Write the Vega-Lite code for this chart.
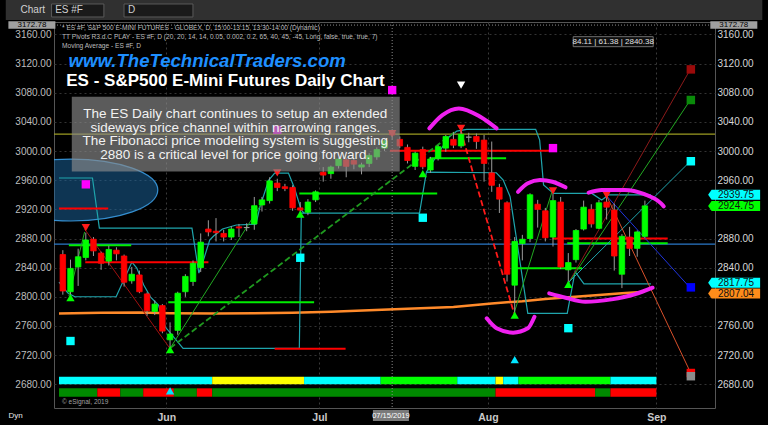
{
"$schema": "https://vega.github.io/schema/vega-lite/v6.json",
"width": 661, "height": 386,
"autosize": {"type": "none"},
"padding": {"left": 54, "top": 22, "right": 53, "bottom": 17},
"background": "#000000",
"config": {"view": {"stroke": "#555555", "fill": "#000000"}, "font": "Liberation Sans"},
"resolve": {"axis": {"x": "independent", "y": "independent"}, "scale": {"color": "independent", "shape": "independent"}},
"datasets": {
"candles": [
{"n":0,"date":"2019-05-13","o":2858,"h":2864,"l":2803,"c":2808},
{"n":1,"date":"2019-05-14","o":2807,"h":2851,"l":2800,"c":2839},
{"n":2,"date":"2019-05-15","o":2841,"h":2866,"l":2815,"c":2855},
{"n":3,"date":"2019-05-16","o":2854,"h":2888,"l":2850,"c":2878},
{"n":4,"date":"2019-05-17","o":2879,"h":2882,"l":2856,"c":2863},
{"n":5,"date":"2019-05-20","o":2860,"h":2862,"l":2837,"c":2846},
{"n":6,"date":"2019-05-21","o":2849,"h":2870,"l":2843,"c":2865},
{"n":7,"date":"2019-05-22","o":2864,"h":2868,"l":2850,"c":2859},
{"n":8,"date":"2019-05-23","o":2856,"h":2858,"l":2814,"c":2820},
{"n":9,"date":"2019-05-24","o":2822,"h":2841,"l":2818,"c":2831},
{"n":10,"date":"2019-05-28","o":2830,"h":2836,"l":2805,"c":2807},
{"n":11,"date":"2019-05-29","o":2804,"h":2806,"l":2774,"c":2781},
{"n":12,"date":"2019-05-30","o":2780,"h":2795,"l":2775,"c":2790},
{"n":13,"date":"2019-05-31","o":2788,"h":2790,"l":2750,"c":2753},
{"n":14,"date":"2019-06-03","o":2741,"h":2765,"l":2729,"c":2749},
{"n":15,"date":"2019-06-04","o":2754,"h":2807,"l":2748,"c":2805},
{"n":16,"date":"2019-06-05","o":2807,"h":2831,"l":2800,"c":2828},
{"n":17,"date":"2019-06-06","o":2821,"h":2850,"l":2815,"c":2846},
{"n":18,"date":"2019-06-07","o":2840,"h":2887,"l":2834,"c":2875},
{"n":19,"date":"2019-06-10","o":2893,"h":2905,"l":2883,"c":2889},
{"n":20,"date":"2019-06-11","o":2890,"h":2908,"l":2876,"c":2888},
{"n":21,"date":"2019-06-12","o":2887,"h":2892,"l":2876,"c":2882},
{"n":22,"date":"2019-06-13","o":2882,"h":2897,"l":2878,"c":2893},
{"n":23,"date":"2019-06-14","o":2896,"h":2900,"l":2882,"c":2894.5},
{"n":24,"date":"2019-06-17","o":2895,"h":2901,"l":2890,"c":2895},
{"n":25,"date":"2019-06-18","o":2900,"h":2937,"l":2892,"c":2925},
{"n":26,"date":"2019-06-19","o":2926,"h":2937,"l":2917,"c":2933},
{"n":27,"date":"2019-06-20","o":2932,"h":2964,"l":2928,"c":2959},
{"n":28,"date":"2019-06-21","o":2956,"h":2962,"l":2945,"c":2950},
{"n":29,"date":"2019-06-24","o":2951,"h":2955,"l":2945,"c":2948.5},
{"n":30,"date":"2019-06-25","o":2950,"h":2953,"l":2918,"c":2922},
{"n":31,"date":"2019-06-26","o":2922,"h":2930,"l":2912,"c":2919},
{"n":32,"date":"2019-06-27","o":2916,"h":2934,"l":2912,"c":2930},
{"n":33,"date":"2019-06-28","o":2933,"h":2946,"l":2930,"c":2944},
{"n":34,"date":"2019-07-01","o":2971,"h":2978,"l":2958,"c":2967},
{"n":35,"date":"2019-07-02","o":2969,"h":2980,"l":2962,"c":2978},
{"n":36,"date":"2019-07-03","o":2980,"h":2991,"l":2976,"c":2989},
{"n":37,"date":"2019-07-05","o":2988,"h":2991,"l":2964,"c":2979},
{"n":38,"date":"2019-07-08","o":2987,"h":2990,"l":2975,"c":2982},
{"n":39,"date":"2019-07-09","o":2978,"h":2984,"l":2968,"c":2981},
{"n":40,"date":"2019-07-10","o":2983,"h":2997,"l":2978,"c":2994},
{"n":41,"date":"2019-07-11","o":2992,"h":3005,"l":2988,"c":3002},
{"n":42,"date":"2019-07-12","o":3004,"h":3016,"l":3000,"c":3014},
{"n":43,"date":"2019-07-15","o":3026,"h":3030,"l":3016,"c":3022},
{"n":44,"date":"2019-07-16","o":3016,"h":3020,"l":3004,"c":3007},
{"n":45,"date":"2019-07-17","o":3005,"h":3009,"l":2983,"c":2987},
{"n":46,"date":"2019-07-18","o":2979,"h":2999,"l":2974,"c":2997},
{"n":47,"date":"2019-07-19","o":3002,"h":3006,"l":2975,"c":2978.5},
{"n":48,"date":"2019-07-22","o":2974,"h":2992,"l":2970,"c":2989},
{"n":49,"date":"2019-07-23","o":2990,"h":3008,"l":2987,"c":3006},
{"n":50,"date":"2019-07-24","o":3004,"h":3022,"l":2999,"c":3020},
{"n":51,"date":"2019-07-25","o":3016,"h":3026,"l":3004,"c":3008},
{"n":52,"date":"2019-07-26","o":3007,"h":3028,"l":3004,"c":3023},
{"n":53,"date":"2019-07-29","o":3019,"h":3025,"l":3012,"c":3019},
{"n":54,"date":"2019-07-30","o":3020,"h":3024,"l":3003,"c":3013},
{"n":55,"date":"2019-07-31","o":3015,"h":3022,"l":2958,"c":2983},
{"n":56,"date":"2019-08-01","o":2970,"h":3013,"l":2944,"c":2953},
{"n":57,"date":"2019-08-02","o":2950,"h":2955,"l":2915,"c":2934},
{"n":58,"date":"2019-08-05","o":2929,"h":2931,"l":2821,"c":2831},
{"n":59,"date":"2019-08-06","o":2816,"h":2882,"l":2777,"c":2876},
{"n":60,"date":"2019-08-07","o":2873,"h":2885,"l":2850,"c":2879},
{"n":61,"date":"2019-08-08","o":2880,"h":2942,"l":2875,"c":2940},
{"n":62,"date":"2019-08-09","o":2927,"h":2933,"l":2895,"c":2920},
{"n":63,"date":"2019-08-12","o":2918,"h":2922,"l":2876,"c":2881},
{"n":64,"date":"2019-08-13","o":2882,"h":2941,"l":2869,"c":2932},
{"n":65,"date":"2019-08-14","o":2930,"h":2937,"l":2838,"c":2841},
{"n":66,"date":"2019-08-15","o":2837,"h":2860,"l":2817,"c":2847},
{"n":67,"date":"2019-08-16","o":2851,"h":2893,"l":2847,"c":2891},
{"n":68,"date":"2019-08-19","o":2893,"h":2932,"l":2891,"c":2923},
{"n":69,"date":"2019-08-20","o":2920,"h":2927,"l":2895,"c":2900},
{"n":70,"date":"2019-08-21","o":2894,"h":2933,"l":2893,"c":2929},
{"n":71,"date":"2019-08-22","o":2930,"h":2940,"l":2906,"c":2923},
{"n":72,"date":"2019-08-23","o":2919,"h":2928,"l":2836,"c":2856},
{"n":73,"date":"2019-08-26","o":2831,"h":2886,"l":2812,"c":2883},
{"n":74,"date":"2019-08-27","o":2882,"h":2896,"l":2856,"c":2866.5},
{"n":75,"date":"2019-08-28","o":2866.5,"h":2891,"l":2855,"c":2889},
{"n":76,"date":"2019-08-29","o":2883,"h":2932,"l":2881,"c":2924.75}
],
"ma": [
{"n":-0.5,"p":2777},{"n":5,"p":2778},{"n":10,"p":2778.5},{"n":14,"p":2777.5},{"n":20,"p":2777},{"n":25,"p":2777.5},{"n":30,"p":2778},{"n":35,"p":2779.5},{"n":40,"p":2781.5},{"n":45,"p":2783.5},{"n":51,"p":2786},{"n":56,"p":2791},{"n":60,"p":2794},{"n":63,"p":2797},{"n":66,"p":2799.5},{"n":70,"p":2802.5},{"n":73,"p":2805},{"n":76,"p":2807.04}
],
"channel": [
{"path":"T1","n":-0.5,"p":2963},{"path":"T1","n":3.87,"p":2963},{"path":"T1","n":4.77,"p":2894.3},{"path":"T1","n":16.86,"p":2894.3},{"path":"T1","n":17.76,"p":2832.6},{"path":"T1","n":18.28,"p":2847.7},{"path":"T1","n":19.18,"p":2877.9},{"path":"T1","n":19.69,"p":2883.4},{"path":"T1","n":20.85,"p":2893},{"path":"T1","n":22.65,"p":2898.5},{"path":"T1","n":25.22,"p":2899.8},{"path":"T1","n":25.73,"p":2923.2},{"path":"T1","n":26.89,"p":2960.2},{"path":"T1","n":27.66,"p":2969.8},{"path":"T1","n":29.46,"p":2969.8},{"path":"T1","n":30.24,"p":2949.2},{"path":"T1","n":31.14,"p":2919},{"path":"T1","n":31.52,"p":2914.9},
{"path":"T2","n":-0.5,"p":2820.2},{"path":"T2","n":0.66,"p":2805.2},{"path":"T2","n":1.56,"p":2800.1},{"path":"T2","n":6.96,"p":2800.1},{"path":"T2","n":9.02,"p":2847.7},{"path":"T2","n":9.66,"p":2839.5},{"path":"T2","n":10.56,"p":2816.2},{"path":"T2","n":11.46,"p":2799.7},{"path":"T2","n":12.49,"p":2788.8},{"path":"T2","n":13.39,"p":2758.6},{"path":"T2","n":15.7,"p":2729.4},{"path":"T2","n":30.88,"p":2729.4},{"path":"T2","n":31.14,"p":2914.9},{"path":"T2","n":46.57,"p":2914.9},{"path":"T2","n":47.47,"p":2971.1},{"path":"T2","n":56.6,"p":2970.2},{"path":"T2","n":57.5,"p":2960.2},{"path":"T2","n":58.4,"p":2937.3},{"path":"T2","n":60.71,"p":2777.4},{"path":"T2","n":65.86,"p":2777.4},{"path":"T2","n":66.88,"p":2834.4},{"path":"T2","n":68.04,"p":2817.75},{"path":"T2","n":76.79,"p":2817.75},
{"path":"T3","n":47.47,"p":2971.1},{"path":"T3","n":48.88,"p":2994.5},{"path":"T3","n":50.43,"p":3019.2},{"path":"T3","n":51.45,"p":3027.4},{"path":"T3","n":52.74,"p":3029.7},{"path":"T3","n":61.74,"p":3029.7},{"path":"T3","n":62.26,"p":3015},{"path":"T3","n":62.77,"p":2953.3},{"path":"T3","n":64.06,"p":2941.9},{"path":"T3","n":69.07,"p":2941.9},{"path":"T3","n":70.36,"p":2932.8},{"path":"T3","n":71.26,"p":2939.75},{"path":"T3","n":76.79,"p":2939.75}
],
"levels": [{"p":3023.3,"kind":"upper"},{"p":2872.4,"kind":"pivot"}],
"segments": [
{"n":-0.5,"n2":5.93,"p":2921.1,"kind":"res"},
{"n":2.93,"n2":19.01,"p":2847.3,"kind":"res"},
{"n":27.66,"n2":36.92,"p":2728.7,"kind":"res"},
{"n":42.71,"n2":63.54,"p":3000.4,"kind":"res"},
{"n":63.93,"n2":78.98,"p":2880,"kind":"res"},
{"n":0.79,"n2":8.93,"p":2870.6,"kind":"sup"},
{"n":13.77,"n2":32.81,"p":2792.5,"kind":"sup"},
{"n":30.88,"n2":48.88,"p":2941.9,"kind":"sup"},
{"n":47.85,"n2":57.88,"p":2990,"kind":"sup"},
{"n":59.0,"n2":67.79,"p":2839.1,"kind":"sup"},
{"n":65.86,"n2":78.98,"p":2873.4,"kind":"sup"}
],
"diagonals": [
{"n":14.03,"p":2729.8,"n2":26.24,"p2":2932.5,"kind":"up"},
{"n":2.84,"p":2893,"n2":14.03,"p2":2728.5,"kind":"down"},
{"n":0.79,"p":2801,"n2":2.84,"p2":2889,"kind":"up"},
{"n":58.91,"p":2777.4,"n2":63.93,"p2":2946.4,"kind":"up"},
{"n":65.86,"p":2816,"n2":81.93,"p2":3112,"kind":"t1"},
{"n":65.86,"p":2816,"n2":81.93,"p2":3070,"kind":"up"},
{"n":65.86,"p":2818,"n2":81.93,"p2":2986,"kind":"t3"},
{"n":70.87,"p":2939.9,"n2":81.68,"p2":2815,"kind":"t4"},
{"n":71.0,"p":2938.5,"n2":81.84,"p2":2698.7,"kind":"t5"}
],
"dashed": [
{"n":14.03,"p":2729.8,"n2":51.33,"p2":3027.4,"kind":"fib"},
{"n":51.97,"p":3027.4,"n2":58.91,"p2":2777.4,"kind":"drop"}
],
"signals": [
{"n":1,"p":2799,"sig":"buy"},{"n":14,"p":2727.5,"sig":"buy"},{"n":31,"p":2913.5,"sig":"buy"},{"n":47,"p":2969,"sig":"buy"},{"n":59,"p":2775,"sig":"buy"},{"n":66,"p":2817,"sig":"buy"},
{"n":3,"p":2895,"sig":"sell"},{"n":28,"p":2970,"sig":"sell"},{"n":43,"p":3024,"sig":"sell"},{"n":52,"p":3031,"sig":"sell"},{"n":64,"p":2945.5,"sig":"sell"},{"n":71,"p":2939.6,"sig":"sell"},
{"n":52,"p":3090.5,"sig":"top"},
{"n":59,"p":2714,"sig":"alert"},{"n":14,"p":2671,"sig":"alert"},
{"n":3,"p":2954.3,"sig":"pivotHigh"},{"n":28,"p":3029,"sig":"pivotHigh"},{"n":43,"p":3083.6,"sig":"pivotHigh"},{"n":64,"p":3004,"sig":"pivotHigh"},
{"n":1,"p":2739.4,"sig":"pivotLow"},{"n":31,"p":2853.6,"sig":"pivotLow"},{"n":47,"p":2908.5,"sig":"pivotLow"},{"n":66,"p":2757,"sig":"pivotLow"}
],
"targets": [
{"n":82,"p":3112,"t":"hi"},{"n":82,"p":3070,"t":"mid"},{"n":82,"p":2986,"t":"ch"},{"n":82,"p":2813,"t":"lo"},{"n":82,"p":2695.5,"t":"dn"},{"n":82,"p":2691.1,"t":"base"}
],
"arcs": [
{"arc":"A1","n":47.85,"p":3031.1},{"arc":"A1","n":49.56,"p":3049.3},{"arc":"A1","n":51.71,"p":3058.5},{"arc":"A1","n":54.5,"p":3047},{"arc":"A1","n":56.64,"p":3031.1},
{"arc":"A2","n":59.43,"p":2944.1},{"arc":"A2","n":60.72,"p":2955.7},{"arc":"A2","n":62.3,"p":2960.2},{"arc":"A2","n":63.93,"p":2957.9},{"arc":"A2","n":65.64,"p":2950.2},
{"arc":"A3","n":68.65,"p":2943},{"arc":"A3","n":70.36,"p":2946.7},{"arc":"A3","n":73.36,"p":2946.7},{"arc":"A3","n":75.93,"p":2940.8},{"arc":"A3","n":78.07,"p":2928.5},{"arc":"A3","n":78.46,"p":2924.2},
{"arc":"A4","n":55.35,"p":2770.5},{"arc":"A4","n":56.64,"p":2756.8},{"arc":"A4","n":58.79,"p":2750.8},{"arc":"A4","n":60.71,"p":2756.8},{"arc":"A4","n":61.58,"p":2772.7},
{"arc":"A5","n":63.5,"p":2804.8},{"arc":"A5","n":65.64,"p":2798.8},{"arc":"A5","n":68.21,"p":2793.3},{"arc":"A5","n":71.64,"p":2796.5},{"arc":"A5","n":74.64,"p":2803.3},{"arc":"A5","n":77.01,"p":2812.5}
],
"strips": [
{"row":"upper","n":-0.5,"n2":19.5,"s":"neutral"},
{"row":"upper","n":19.5,"n2":31.5,"s":"caution"},
{"row":"upper","n":31.5,"n2":41.5,"s":"neutral"},
{"row":"upper","n":41.5,"n2":51.5,"s":"bull"},
{"row":"upper","n":51.5,"n2":56.5,"s":"neutral"},
{"row":"upper","n":56.5,"n2":57.5,"s":"caution"},
{"row":"upper","n":57.5,"n2":59.5,"s":"neutral"},
{"row":"upper","n":59.5,"n2":71.5,"s":"bull"},
{"row":"upper","n":71.5,"n2":77.5,"s":"neutral"},
{"row":"lower","n":-0.5,"n2":4.5,"s":"long"},
{"row":"lower","n":4.5,"n2":7.5,"s":"short"},
{"row":"lower","n":7.5,"n2":10.5,"s":"long"},
{"row":"lower","n":10.5,"n2":14.5,"s":"short"},
{"row":"lower","n":14.5,"n2":17.5,"s":"long"},
{"row":"lower","n":17.5,"n2":19.5,"s":"short"},
{"row":"lower","n":19.5,"n2":56.5,"s":"long"},
{"row":"lower","n":56.5,"n2":69.5,"s":"short"},
{"row":"lower","n":69.5,"n2":71.5,"s":"long"},
{"row":"lower","n":71.5,"n2":77.5,"s":"short"}
],
"lastvals": [
{"label":"2939.75","p":2940.0,"kind":"ch"},{"label":"2924.75","p":2924.6,"kind":"last"},{"label":"2817.75","p":2819.2,"kind":"ch"},{"label":"2807.04","p":2804.5,"kind":"ma"}
]
},
"layer": [
{"data":{"values":[{}]},"mark":{"type":"rect","fill":"#303030"},
 "encoding":{"x":{"datum":-7.45,"type":"quantitative","scale":{"domain":[-0.5,84.5],"nice":false,"zero":false},"axis":null},"x2":{"datum":91.33},
 "y":{"datum":3207.3,"type":"quantitative","scale":{"domain":[2647.5,3177],"nice":false,"zero":false},"axis":null},"y2":{"datum":3179.7}}},
{"data":{"values":[{}]},"mark":{"type":"rect","fill":"#1a1a1a","stroke":"#5a5a5a","strokeWidth":1},
 "encoding":{"x":{"datum":-1.47,"type":"quantitative","scale":{"domain":[-0.5,84.5],"nice":false,"zero":false},"axis":null},"x2":{"datum":5.36},
 "y":{"datum":3201.7,"type":"quantitative","scale":{"domain":[2647.5,3177],"nice":false,"zero":false},"axis":null},"y2":{"datum":3183.9}}},
{"data":{"values":[{}]},"mark":{"type":"rect","fill":"#1a1a1a","stroke":"#5a5a5a","strokeWidth":1},
 "encoding":{"x":{"datum":7.99,"type":"quantitative","scale":{"domain":[-0.5,84.5],"nice":false,"zero":false},"axis":null},"x2":{"datum":16.99},
 "y":{"datum":3201.7,"type":"quantitative","scale":{"domain":[2647.5,3177],"nice":false,"zero":false},"axis":null},"y2":{"datum":3183.9}}},
{"data":{"values":[{"t":"Chart","n":-5.52},{"t":"ES #F","n":-1.0},{"t":"D","n":8.5}]},"mark":{"type":"text","align":"left","baseline":"middle","fontSize":10,"fill":"#d0d0d0"},
 "encoding":{"x":{"field":"n","type":"quantitative","scale":{"domain":[-0.5,84.5],"nice":false,"zero":false},"axis":null},
 "y":{"datum":3192.8,"type":"quantitative","scale":{"domain":[2647.5,3177],"nice":false,"zero":false},"axis":null},"text":{"field":"t"}}},
{"data":{"values":[{}]},"mark":{"type":"point","shape":"M-1,0A1,0.356,0,1,1,1,0A1,0.356,0,1,1,-1,0Z","size":30276,"filled":true,"fill":"#1b6aa5","fillOpacity":0.5,"stroke":"#3a9ae0","strokeWidth":1.2,"strokeOpacity":0.9,"clip":true},
 "encoding":{"x":{"datum":1.04,"type":"quantitative","scale":{"domain":[-0.5,84.5],"nice":false,"zero":false},"axis":null},
 "y":{"datum":2946.5,"type":"quantitative","scale":{"domain":[2647.5,3177],"nice":false,"zero":false},"axis":null}}},
{"data":{"name":"strips"},"transform":[{"filter":"datum.row == 'upper'"}],"mark":{"type":"rect"},
 "encoding":{"x":{"field":"n","type":"quantitative","scale":{"domain":[-0.5,84.5],"nice":false,"zero":false},"axis":null},"x2":{"field":"n2"},
 "y":{"datum":2690.4,"type":"quantitative","scale":{"domain":[2647.5,3177],"nice":false,"zero":false},"axis":null},"y2":{"datum":2680.0},
 "color":{"field":"s","type":"nominal","scale":{"domain":["neutral","caution","bull","long","short"],"range":["#00ffff","#ffff00","#00ff00","#008a00","#ff0000"]},"legend":null}}},
{"data":{"name":"strips"},"transform":[{"filter":"datum.row == 'lower'"}],"mark":{"type":"rect"},
 "encoding":{"x":{"field":"n","type":"quantitative","scale":{"domain":[-0.5,84.5],"nice":false,"zero":false},"axis":null},"x2":{"field":"n2"},
 "y":{"datum":2674.5,"type":"quantitative","scale":{"domain":[2647.5,3177],"nice":false,"zero":false},"axis":null},"y2":{"datum":2663.0},
 "color":{"field":"s","type":"nominal","scale":{"domain":["neutral","caution","bull","long","short"],"range":["#00ffff","#ffff00","#00ff00","#008a00","#ff0000"]},"legend":null}}},
{"data":{"values":[{}]},"mark":{"type":"rule","stroke":"#8a8a8a","strokeWidth":1,"strokeDash":[1,2]},
 "encoding":{"x":{"datum":43,"type":"quantitative","scale":{"domain":[-0.5,84.5],"nice":false,"zero":false},"axis":null}}},
{"data":{"values":[{}]},"mark":{"type":"rule","stroke":"#8a8a8a","strokeWidth":1,"strokeDash":[1,2]},
 "encoding":{"y":{"datum":3172.78,"type":"quantitative","scale":{"domain":[2647.5,3177],"nice":false,"zero":false},"axis":null}}},
{"data":{"name":"ma"},"mark":{"type":"line","stroke":"#ff8a2a","strokeWidth":2.5},
 "encoding":{"x":{"field":"n","type":"quantitative","scale":{"domain":[-0.5,84.5],"nice":false,"zero":false},"axis":null},
 "y":{"field":"p","type":"quantitative","scale":{"domain":[2647.5,3177],"nice":false,"zero":false},"axis":null}}},
{"data":{"name":"levels"},"mark":{"type":"rule","strokeWidth":1.3},
 "encoding":{"y":{"field":"p","type":"quantitative","scale":{"domain":[2647.5,3177],"nice":false,"zero":false},"axis":null},
 "color":{"field":"kind","type":"nominal","scale":{"domain":["upper","pivot"],"range":["#9c9c22","#2a78c8"]},"legend":null}}},
{"data":{"name":"channel"},"mark":{"type":"line","stroke":"#1fa5ad","strokeWidth":1.2},
 "encoding":{"x":{"field":"n","type":"quantitative","scale":{"domain":[-0.5,84.5],"nice":false,"zero":false},"axis":null},
 "y":{"field":"p","type":"quantitative","scale":{"domain":[2647.5,3177],"nice":false,"zero":false},"axis":null},
 "detail":{"field":"path","type":"nominal"}}},
{"data":{"name":"segments"},"mark":{"type":"rule","strokeWidth":2},
 "encoding":{"x":{"field":"n","type":"quantitative","scale":{"domain":[-0.5,84.5],"nice":false,"zero":false},"axis":null},"x2":{"field":"n2"},
 "y":{"field":"p","type":"quantitative","scale":{"domain":[2647.5,3177],"nice":false,"zero":false},"axis":null},
 "color":{"field":"kind","type":"nominal","scale":{"domain":["res","sup"],"range":["#ff0000","#00ee00"]},"legend":null}}},
{"data":{"name":"diagonals"},"mark":{"type":"rule","strokeWidth":1},
 "encoding":{"x":{"field":"n","type":"quantitative","scale":{"domain":[-0.5,84.5],"nice":false,"zero":false},"axis":null},"x2":{"field":"n2"},
 "y":{"field":"p","type":"quantitative","scale":{"domain":[2647.5,3177],"nice":false,"zero":false},"axis":null},"y2":{"field":"p2"},
 "color":{"field":"kind","type":"nominal","scale":{"domain":["up","down","t1","t3","t4","t5"],"range":["#22a822","#a01010","#8c1a1a","#1fa5ad","#2035e0","#d8502a"]},"legend":null}}},
{"data":{"name":"dashed"},"mark":{"type":"rule","strokeWidth":1.8,"strokeDash":[6,3]},
 "encoding":{"x":{"field":"n","type":"quantitative","scale":{"domain":[-0.5,84.5],"nice":false,"zero":false},"axis":null},"x2":{"field":"n2"},
 "y":{"field":"p","type":"quantitative","scale":{"domain":[2647.5,3177],"nice":false,"zero":false},"axis":null},"y2":{"field":"p2"},
 "color":{"field":"kind","type":"nominal","scale":{"domain":["fib","drop"],"range":["#1f9a1f","#ff1a1a"]},"legend":null}}},
{"data":{"name":"candles"},"mark":{"type":"rule","stroke":"#9a9a9a","strokeWidth":1},
 "encoding":{"x":{"field":"n","type":"quantitative","scale":{"domain":[-0.5,84.5],"nice":false,"zero":false},
   "axis":{"orient":"bottom","values":[13.5,33.5,55.5,77.5],"labelExpr":"datum.value == 13.5 ? 'Jun' : datum.value == 33.5 ? 'Jul' : datum.value == 55.5 ? 'Aug' : datum.value == 77.5 ? 'Sep' : ''","labelColor":"#c8c8c8","labelFont":"Liberation Sans","labelFontSize":10.5,"labelFontWeight":"bold","labelPadding":4,"labelFlush":false,"labelOverlap":false,"ticks":false,"domain":false,"grid":true,"gridColor":"#3a3a3a","gridDash":[2,3],"title":null}},
 "y":{"field":"l","type":"quantitative","scale":{"domain":[2647.5,3177],"nice":false,"zero":false},
   "axis":{"orient":"left","values":[2680,2720,2760,2800,2840,2880,2920,2960,3000,3040,3080,3120,3160],"format":".2f","labelColor":"#bdbdbd","labelFont":"Liberation Sans","labelFontSize":10,"labelPadding":3,"ticks":false,"domain":false,"grid":true,"gridColor":"#333333","gridDash":[2,3],"title":null}},
 "y2":{"field":"h"}}},
{"data":{"name":"candles"},"mark":{"type":"bar","width":5.5,"strokeWidth":0.8},
 "encoding":{"x":{"field":"n","type":"quantitative","scale":{"domain":[-0.5,84.5],"nice":false,"zero":false},"axis":null},
 "y":{"field":"o","type":"quantitative","scale":{"domain":[2647.5,3177],"nice":false,"zero":false},
   "axis":{"orient":"right","values":[2680,2720,2760,2840,2880,2960,3000,3040,3080,3120,3160],"format":".2f","labelColor":"#d6d6d6","labelFont":"Liberation Sans","labelFontSize":10,"labelPadding":2,"ticks":false,"domain":false,"grid":false,"title":null}},
 "y2":{"field":"c"},
 "fill":{"condition":[{"test":"datum.c == datum.o","value":"#a0a0a0"},{"test":"datum.c > datum.o","value":"#00ff00"}],"value":"#ff0000"},
 "stroke":{"condition":[{"test":"datum.c == datum.o","value":"#a0a0a0"},{"test":"datum.c > datum.o","value":"#00ff00"}],"value":"#ff0000"}}},
{"data":{"name":"signals"},"mark":{"type":"point","filled":true,"size":70,"opacity":1},
 "encoding":{"x":{"field":"n","type":"quantitative","scale":{"domain":[-0.5,84.5],"nice":false,"zero":false},"axis":null},
 "y":{"field":"p","type":"quantitative","scale":{"domain":[2647.5,3177],"nice":false,"zero":false},"axis":null},
 "shape":{"field":"sig","type":"nominal","scale":{"domain":["buy","sell","top","alert","pivotHigh","pivotLow"],"range":["triangle-up","triangle-down","triangle-down","triangle-up","square","square"]},"legend":null},
 "color":{"field":"sig","type":"nominal","scale":{"domain":["buy","sell","top","alert","pivotHigh","pivotLow"],"range":["#00ff00","#ff1a1a","#ffffff","#00e5ff","#ff00ff","#00ffff"]},"legend":null}}},
{"data":{"name":"targets"},"mark":{"type":"point","shape":"square","filled":true,"size":72,"opacity":1},
 "encoding":{"x":{"field":"n","type":"quantitative","scale":{"domain":[-0.5,84.5],"nice":false,"zero":false},"axis":null},
 "y":{"field":"p","type":"quantitative","scale":{"domain":[2647.5,3177],"nice":false,"zero":false},"axis":null},
 "color":{"field":"t","type":"nominal","scale":{"domain":["hi","mid","ch","lo","dn","base"],"range":["#9a0a0a","#0a8a0a","#00ffff","#0000ff","#ff0000","#8c8c8c"]},"legend":null}}},
{"data":{"name":"arcs"},"mark":{"type":"line","stroke":"#f020f0","strokeWidth":4,"strokeCap":"round","interpolate":"monotone"},
 "encoding":{"x":{"field":"n","type":"quantitative","scale":{"domain":[-0.5,84.5],"nice":false,"zero":false},"axis":null},
 "y":{"field":"p","type":"quantitative","scale":{"domain":[2647.5,3177],"nice":false,"zero":false},"axis":null},
 "detail":{"field":"arc","type":"nominal"}}},
{"data":{"values":[{}]},"mark":{"type":"rect","fill":"#8c8c8c","opacity":0.65},
 "encoding":{"x":{"datum":1.17,"type":"quantitative","scale":{"domain":[-0.5,84.5],"nice":false,"zero":false},"axis":null},"x2":{"datum":43.99},
 "y":{"datum":3074.5,"type":"quantitative","scale":{"domain":[2647.5,3177],"nice":false,"zero":false},"axis":null},"y2":{"datum":2971.9}}},
{"data":{"values":[{}]},"mark":{"type":"text","align":"center","baseline":"alphabetic","fontSize":13.5,"lineHeight":13.5,"fill":"#f2f2f2"},
 "encoding":{"x":{"datum":22.52,"type":"quantitative","scale":{"domain":[-0.5,84.5],"nice":false,"zero":false},"axis":null},
 "y":{"datum":3044.9,"type":"quantitative","scale":{"domain":[2647.5,3177],"nice":false,"zero":false},"axis":null},
 "text":{"value":["The ES Daily chart continues to setup an extended","sideways price channel within narrowing ranges.","The Fibonacci price modeling system is suggesting","2880 is a critical level for price going forward."]}}},
{"data":{"values":[{}]},"mark":{"type":"text","align":"left","baseline":"alphabetic","fontSize":18.6,"fontWeight":"bold","fontStyle":"italic","fill":"#1e8fff"},
 "encoding":{"x":{"datum":0.75,"type":"quantitative","scale":{"domain":[-0.5,84.5],"nice":false,"zero":false},"axis":null},
 "y":{"datum":3115.3,"type":"quantitative","scale":{"domain":[2647.5,3177],"nice":false,"zero":false},"axis":null},
 "text":{"value":"www.TheTechnicalTraders.com"}}},
{"data":{"values":[{}]},"mark":{"type":"text","align":"left","baseline":"alphabetic","fontSize":17,"fontWeight":"bold","fill":"#ffffff"},
 "encoding":{"x":{"datum":0.45,"type":"quantitative","scale":{"domain":[-0.5,84.5],"nice":false,"zero":false},"axis":null},
 "y":{"datum":3089.2,"type":"quantitative","scale":{"domain":[2647.5,3177],"nice":false,"zero":false},"axis":null},
 "text":{"value":"ES - S&P500 E-Mini Futures Daily Chart"}}},
{"data":{"values":[{}]},"mark":{"type":"text","align":"left","baseline":"alphabetic","fontSize":6.6,"lineHeight":9,"fill":"#bdbdbd"},
 "encoding":{"x":{"datum":-0.11,"type":"quantitative","scale":{"domain":[-0.5,84.5],"nice":false,"zero":false},"axis":null},
 "y":{"datum":3166.0,"type":"quantitative","scale":{"domain":[2647.5,3177],"nice":false,"zero":false},"axis":null},
 "text":{"value":["* ES #F, S&P 500 E-MINI FUTURES - GLOBEX, D, 15:00-13:15, 13:30-14:00 (Dynamic)","TT Pivots R3.d.C PLAY - ES #F, D (20, 20, 14, 14, 0.05, 0.002, 0.2, 65, 40, 45, -45, Long, false, true, true, 7)","Moving Average - ES #F, D"]}}},
{"data":{"values":[{}]},"mark":{"type":"point","shape":"M-1,-0.125L1,-0.125L1,0.125L-1,0.125Z","size":6400,"filled":true,"fill":"#141414","stroke":"#a0a0a0","strokeWidth":1},
 "encoding":{"x":{"datum":71.86,"type":"quantitative","scale":{"domain":[-0.5,84.5],"nice":false,"zero":false},"axis":null},
 "y":{"datum":3150.0,"type":"quantitative","scale":{"domain":[2647.5,3177],"nice":false,"zero":false},"axis":null}}},
{"data":{"values":[{}]},"mark":{"type":"text","align":"center","baseline":"middle","fontSize":8,"fill":"#e0e0e0"},
 "encoding":{"x":{"datum":71.86,"type":"quantitative","scale":{"domain":[-0.5,84.5],"nice":false,"zero":false},"axis":null},
 "y":{"datum":3150.0,"type":"quantitative","scale":{"domain":[2647.5,3177],"nice":false,"zero":false},"axis":null},
 "text":{"value":"84.11 | 61.38 | 2840.38"}}},
{"data":{"name":"lastvals"},"mark":{"type":"point","shape":"M-1.08,0L-0.94,-0.2L1,-0.2L1,0.2L-0.94,0.2Z","size":2500,"filled":true,"opacity":1},
 "encoding":{"x":{"datum":87.78,"type":"quantitative","scale":{"domain":[-0.5,84.5],"nice":false,"zero":false},"axis":null},
 "y":{"field":"p","type":"quantitative","scale":{"domain":[2647.5,3177],"nice":false,"zero":false},"axis":null},
 "color":{"field":"kind","type":"nominal","scale":{"domain":["ch","last","ma"],"range":["#00ffff","#00ff00","#ff8c1a"]},"legend":null}}},
{"data":{"name":"lastvals"},"mark":{"type":"text","align":"center","baseline":"middle","fontSize":10,"fill":"#101010"},
 "encoding":{"x":{"datum":87.9,"type":"quantitative","scale":{"domain":[-0.5,84.5],"nice":false,"zero":false},"axis":null},
 "y":{"field":"p","type":"quantitative","scale":{"domain":[2647.5,3177],"nice":false,"zero":false},"axis":null},
 "text":{"field":"label"}}},
{"data":{"values":[{"v":"3172.78","n":-4.04},{"v":"3172.78","n":87.61}]},"mark":{"type":"point","shape":"M-1,-0.16L1,-0.16L1,0.16L-1,0.16Z","size":2209,"filled":true,"fill":"#a0a0a0","opacity":1},
 "encoding":{"x":{"field":"n","type":"quantitative","scale":{"domain":[-0.5,84.5],"nice":false,"zero":false},"axis":null},
 "y":{"datum":3172.78,"type":"quantitative","scale":{"domain":[2647.5,3177],"nice":false,"zero":false},"axis":null}}},
{"data":{"values":[{"v":"3172.78","n":-4.04},{"v":"3172.78","n":87.61}]},"mark":{"type":"text","align":"center","baseline":"middle","fontSize":8,"fill":"#000000"},
 "encoding":{"x":{"field":"n","type":"quantitative","scale":{"domain":[-0.5,84.5],"nice":false,"zero":false},"axis":null},
 "y":{"datum":3172.78,"type":"quantitative","scale":{"domain":[2647.5,3177],"nice":false,"zero":false},"axis":null},
 "text":{"field":"v"}}},
{"data":{"values":[{}]},"mark":{"type":"point","shape":"M-1,-0.3L1,-0.3L1,0.3L-1,0.3Z","size":1296,"filled":true,"fill":"#7a7a7a","opacity":1},
 "encoding":{"x":{"datum":42.84,"type":"quantitative","scale":{"domain":[-0.5,84.5],"nice":false,"zero":false},"axis":null},
 "y":{"datum":2637.2,"type":"quantitative","scale":{"domain":[2647.5,3177],"nice":false,"zero":false},"axis":null}}},
{"data":{"values":[{"t":"07/15/2019"}]},"mark":{"type":"text","align":"center","baseline":"middle","fontSize":7.5,"fill":"#ffffff"},
 "encoding":{"x":{"datum":42.84,"type":"quantitative","scale":{"domain":[-0.5,84.5],"nice":false,"zero":false},"axis":null},
 "y":{"datum":2637.2,"type":"quantitative","scale":{"domain":[2647.5,3177],"nice":false,"zero":false},"axis":null},
 "text":{"field":"t"}}},
{"data":{"values":[{}]},"mark":{"type":"text","align":"center","baseline":"middle","fontSize":8,"fill":"#e8e8e8"},
 "encoding":{"x":{"datum":-6.16,"type":"quantitative","scale":{"domain":[-0.5,84.5],"nice":false,"zero":false},"axis":null},
 "y":{"datum":2637.2,"type":"quantitative","scale":{"domain":[2647.5,3177],"nice":false,"zero":false},"axis":null},
 "text":{"value":"Dyn"}}},
{"data":{"values":[{}]},"mark":{"type":"text","align":"left","baseline":"alphabetic","fontSize":6.5,"fill":"#a0a0a0"},
 "encoding":{"x":{"datum":-0.11,"type":"quantitative","scale":{"domain":[-0.5,84.5],"nice":false,"zero":false},"axis":null},
 "y":{"datum":2653,"type":"quantitative","scale":{"domain":[2647.5,3177],"nice":false,"zero":false},"axis":null},
 "text":{"value":"© eSignal, 2019"}}}
]
}
